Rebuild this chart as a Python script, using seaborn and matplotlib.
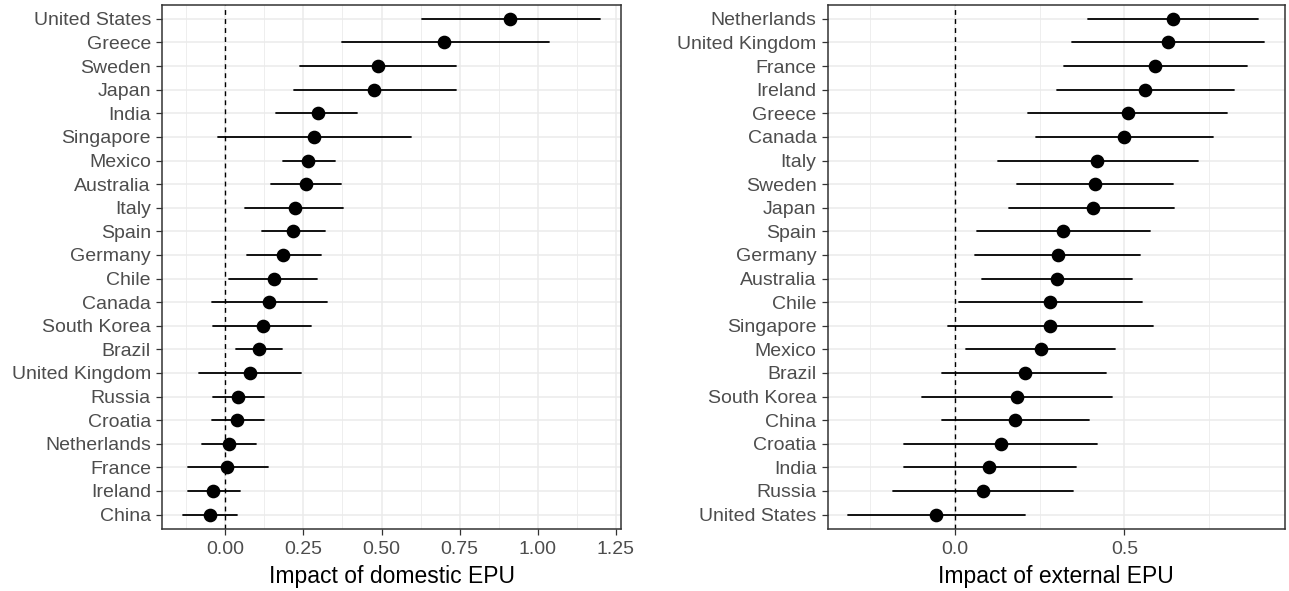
import pandas as pd
import numpy as np
import matplotlib
import matplotlib.pyplot as plt
import seaborn as sns
from matplotlib.ticker import MultipleLocator, FormatStrFormatter

matplotlib.use('Agg')

# Domestic EPU impact, ordered top to bottom as in the chart
dom_countries = ["United States", "Greece", "Sweden", "Japan", "India", "Singapore",
                 "Mexico", "Australia", "Italy", "Spain", "Germany", "Chile", "Canada",
                 "South Korea", "Brazil", "United Kingdom", "Russia", "Croatia",
                 "Netherlands", "France", "Ireland", "China"]
dom_est = [0.911, 0.700, 0.489, 0.475, 0.295, 0.284, 0.264, 0.259, 0.223, 0.217, 0.186,
           0.155, 0.141, 0.121, 0.109, 0.078, 0.042, 0.037, 0.012, 0.005, -0.040, -0.050]
dom_lo = [0.631, 0.374, 0.240, 0.219, 0.162, -0.024, 0.183, 0.147, 0.064, 0.116, 0.068,
          0.013, -0.044, -0.040, 0.033, -0.086, -0.040, -0.044, -0.075, -0.121, -0.121, -0.136]
dom_hi = [1.200, 1.035, 0.737, 0.737, 0.423, 0.593, 0.351, 0.371, 0.377, 0.320, 0.305,
          0.294, 0.326, 0.274, 0.181, 0.243, 0.124, 0.124, 0.098, 0.135, 0.047, 0.037]

# External EPU impact
ext_countries = ["Netherlands", "United Kingdom", "France", "Ireland", "Greece", "Canada",
                 "Italy", "Sweden", "Japan", "Spain", "Germany", "Australia", "Chile",
                 "Singapore", "Mexico", "Brazil", "South Korea", "China", "Croatia",
                 "India", "Russia", "United States"]
ext_est = [0.642, 0.628, 0.590, 0.561, 0.509, 0.499, 0.419, 0.414, 0.406, 0.320, 0.305,
           0.301, 0.282, 0.282, 0.254, 0.207, 0.184, 0.178, 0.136, 0.102, 0.084, -0.054]
ext_lo = [0.392, 0.345, 0.321, 0.302, 0.217, 0.240, 0.127, 0.184, 0.161, 0.065, 0.060,
          0.080, 0.013, -0.020, 0.033, -0.038, -0.095, -0.038, -0.148, -0.148, -0.181, -0.312]
ext_hi = [0.892, 0.911, 0.859, 0.821, 0.802, 0.760, 0.717, 0.642, 0.647, 0.575, 0.546,
          0.523, 0.551, 0.585, 0.472, 0.447, 0.462, 0.395, 0.418, 0.357, 0.348, 0.206]

sns.set_style('white')
plt.rcParams['font.family'] = ['Liberation Sans', 'DejaVu Sans']


def long_frame(countries, est, lo, hi):
    # three rows per country: the median gives the estimate, min/max the interval
    return pd.DataFrame({
        'country': countries * 3,
        'value': list(lo) + list(est) + list(hi),
    })


def draw_panel(ax, countries, est, lo, hi, label, major, minor, fmt):
    df = long_frame(countries, est, lo, hi)
    ax.axvline(0, color='black', linewidth=1.0, linestyle=(0, (3.5, 3)), zorder=2)
    sns.pointplot(
        data=df, x='value', y='country', order=countries,
        estimator='median', errorbar=lambda v: (v.min(), v.max()),
        color='black', marker='o', markersize=7.8, linestyle='none',
        err_kws={'linewidth': 1.3}, ax=ax, zorder=3,
    )
    span = max(hi) - min(lo)
    ax.set_xlim(min(lo) - 0.05 * span, max(hi) + 0.05 * span)
    ax.set_ylim(len(countries) - 1 + 0.6, -0.6)
    ax.xaxis.set_major_locator(MultipleLocator(major))
    ax.xaxis.set_minor_locator(MultipleLocator(minor))
    ax.xaxis.set_major_formatter(FormatStrFormatter(fmt))
    ax.set_axisbelow(True)
    ax.grid(which='major', color='#EBEBEB', linewidth=1.1)
    ax.grid(axis='x', which='minor', color='#EBEBEB', linewidth=0.6)
    ax.tick_params(which='major', left=True, bottom=True, length=4, width=0.9,
                   color='#333333', labelsize=14, labelcolor='#4D4D4D', pad=5)
    ax.tick_params(which='minor', left=False, bottom=False, length=0)
    ax.tick_params(axis='y', pad=4)
    for s in ax.spines.values():
        s.set_visible(True)
        s.set_color('#333333')
        s.set_linewidth(1.1)
    ax.set_xlabel(label, fontsize=16.5, color='black', labelpad=5)
    ax.set_ylabel('')


fig = plt.figure(figsize=(12.89, 5.91), dpi=100)
ax1 = fig.add_axes([0.1257, 0.1054, 0.3561, 0.8866])
ax2 = fig.add_axes([0.6421, 0.1054, 0.3548, 0.8866])

draw_panel(ax1, dom_countries, dom_est, dom_lo, dom_hi,
           'Impact of domestic EPU', 0.25, 0.125, '%.2f')
draw_panel(ax2, ext_countries, ext_est, ext_lo, ext_hi,
           'Impact of external EPU', 0.5, 0.25, '%.1f')

fig.savefig('out.png', dpi=100)
print("Chart saved as 'out.png'")
